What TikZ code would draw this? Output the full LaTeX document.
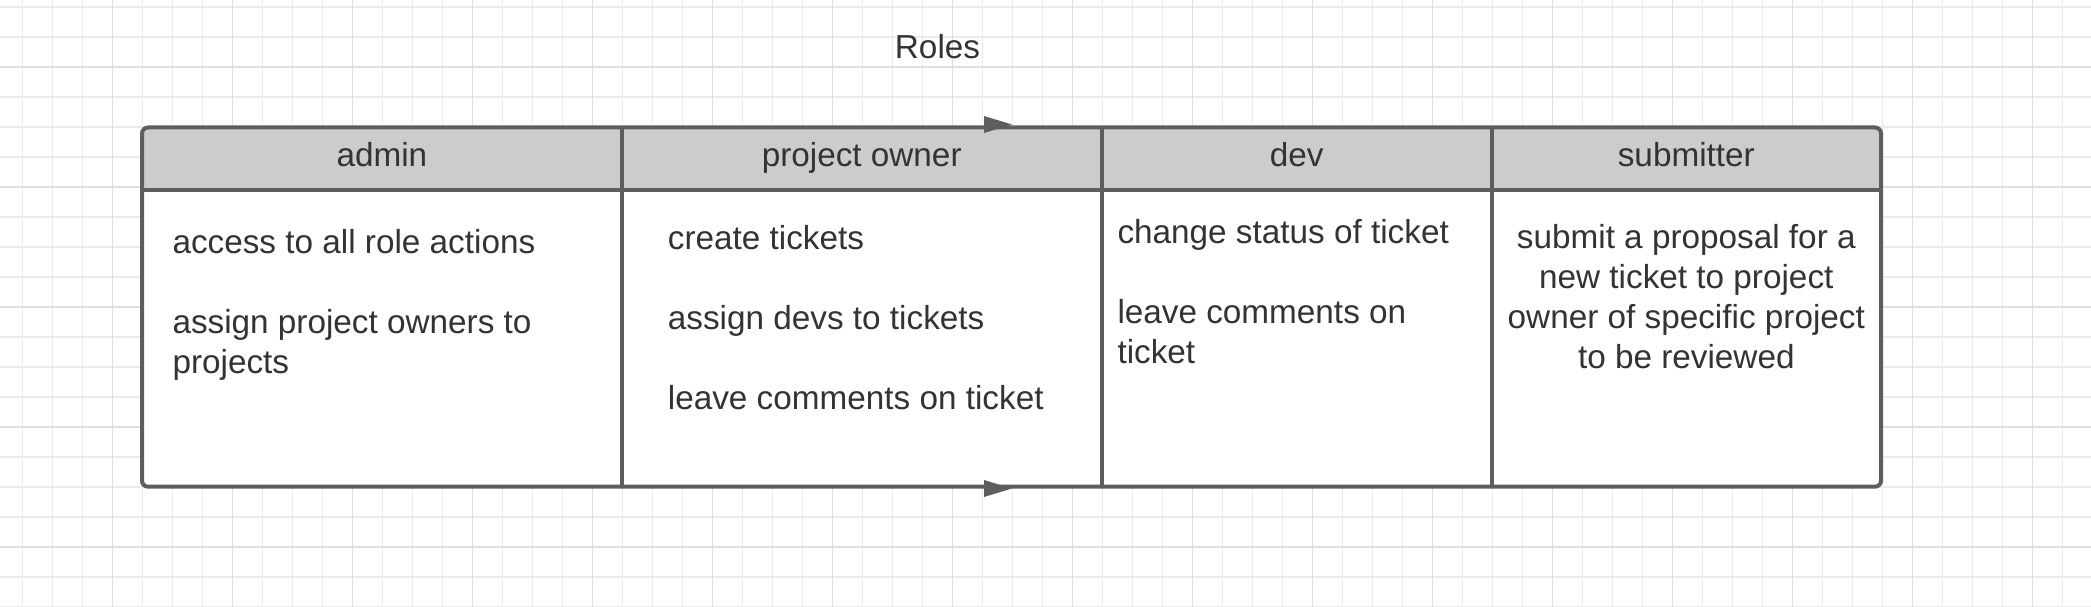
\documentclass[tikz,border=0pt]{standalone}
\usepackage{fontspec}
\setmainfont{Liberation Sans}
\definecolor{gridminor}{HTML}{EBEBEB}
\definecolor{gridmajor}{HTML}{DEDEDE}
\definecolor{framecol}{HTML}{5E5E5E}
\definecolor{headfill}{HTML}{CCCCCC}
\definecolor{textcol}{HTML}{333333}
\tikzset{
  minorline/.style={draw=gridminor, line width=1.3pt},
  majorline/.style={draw=gridmajor, line width=1.5pt},
  frame/.style={draw=framecol, line width=4pt},
  marker/.style={fill=framecol},
  txt/.style={inner sep=0pt, text=textcol, font=\fontsize{33.3}{40}\selectfont},
  lefttxt/.style={txt, anchor=base west},
  midtxt/.style={txt, anchor=base},
}
\begin{document}
\begin{tikzpicture}[x=1pt,y=-1pt]
\useasboundingbox (0,0) rectangle (2091,607);
\fill[white] (0,0) rectangle (2091,607);
% grid
\foreach \k in {0,...,69} \draw[minorline] ({22.5+30*\k},0) -- ({22.5+30*\k},607);
\foreach \k in {0,...,20} \draw[minorline] (0,{7+30*\k}) -- (2091,{7+30*\k});
\foreach \k in {0,...,16} \draw[majorline] ({112.5+120*\k},0) -- ({112.5+120*\k},607);
\foreach \k in {0,...,4} \draw[majorline] (0,{67+120*\k}) -- (2091,{67+120*\k});
% title
\node[midtxt] (title) at (937.5,58.3) {Roles};
% table background
\fill[white, rounded corners=6pt] (142,127.5) rectangle (1881,486.7);
\begin{scope}
  \clip[rounded corners=6pt] (142,127.5) rectangle (1881,486.7);
  \fill[headfill] (142,127.5) rectangle (1881,189.5);
\end{scope}
% header labels
\node[midtxt] (hadmin) at (381.9,166) {admin};
\node[midtxt] (howner) at (861.7,166) {project owner};
\node[midtxt] (hdev) at (1296.7,166) {dev};
\node[midtxt] (hsub) at (1686.3,166) {submitter};
% dividers
\draw[frame] (142,189.5) -- (1881,189.5);
\draw[frame] (621.7,127.5) -- (621.7,486.7);
\draw[frame] (1101.7,127.5) -- (1101.7,486.7);
\draw[frame] (1491.7,127.5) -- (1491.7,486.7);
% outline
\draw[frame, rounded corners=6pt] (142,127.5) rectangle (1881,486.7);
% lane markers
\fill[marker] (984,116) -- (1012,124.5) -- (984,133) -- cycle;
\fill[marker] (984,480) -- (1012,488.5) -- (984,497) -- cycle;
% admin
\node[lefttxt] (a1) at (172.3,253.3) {access to all role actions};
\node[lefttxt] (a2) at (172.3,333.3) {assign project owners to};
\node[lefttxt] (a3) at (172.3,373.3) {projects};
% project owner
\node[lefttxt] (p1) at (667.7,249) {create tickets};
\node[lefttxt] (p2) at (667.7,329) {assign devs to tickets};
\node[lefttxt] (p3) at (667.7,409) {leave comments on ticket};
% dev
\node[lefttxt] (d1) at (1117.3,243.3) {change status of ticket};
\node[lefttxt] (d2) at (1117.3,323.3) {leave comments on};
\node[lefttxt] (d3) at (1117.3,363.3) {ticket};
% submitter
\node[midtxt] (s1) at (1686.3,248.3) {submit a proposal for a};
\node[midtxt] (s2) at (1686.3,288.3) {new ticket to project};
\node[midtxt] (s3) at (1686.3,328.3) {owner of specific project};
\node[midtxt] (s4) at (1686.3,368.3) {to be reviewed};
\end{tikzpicture}
\end{document}
